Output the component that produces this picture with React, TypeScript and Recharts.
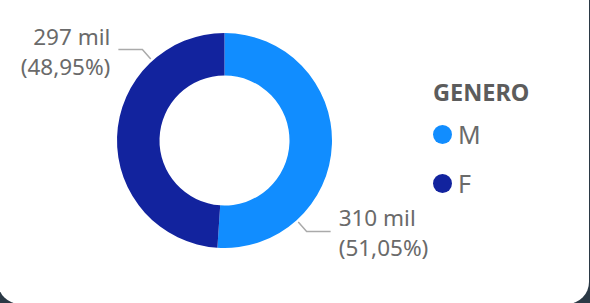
import React from "react";
import { PieChart, Pie, Cell, Legend } from "recharts";

const generos = ["M", "F"];
const totais = [310200, 297400];
const cores = ["#118DFF", "#12239E"];

const dados = generos.map((g, i) => ({ name: g, value: totais[i] }));

const FONTE = "'Segoe UI', 'Noto Sans', sans-serif";
const RAD = Math.PI / 180;

const ponto = (cx: number, cy: number, r: number, ang: number) => ({
  x: cx + r * Math.cos(-ang * RAD),
  y: cy + r * Math.sin(-ang * RAD),
});

const RotuloFatia = (props: any) => {
  const { cx, cy, midAngle, outerRadius, value, percent } = props;
  // Power BI coloca o rótulo ~45° antes do meio da fatia
  const ang = midAngle - 46;
  const p0 = ponto(cx, cy, outerRadius + 2.5, ang);
  const p1 = ponto(cx, cy, outerRadius + 15, ang);
  const lado = Math.cos(-ang * RAD) >= 0 ? 1 : -1;
  const p2x = p1.x + lado * 24;
  const tx = p2x + lado * 8;
  const pct = (percent * 100).toLocaleString("pt-BR", {
    minimumFractionDigits: 2,
    maximumFractionDigits: 2,
  });
  return (
    <g>
      <polyline
        points={`${p0.x},${p0.y} ${p1.x},${p1.y} ${p2x},${p1.y}`}
        fill="none"
        stroke="#aaaaaa"
        strokeWidth={1.5}
      />
      <text
        x={tx}
        y={p1.y - 5}
        textAnchor={lado > 0 ? "start" : "end"}
        fill="#6a6a6a"
        fontSize={22.5}
        fontFamily={FONTE}
      >
        <tspan x={tx}>{`${Math.round(value / 1000)} mil`}</tspan>
        <tspan x={tx} dy={30}>{`(${pct}%)`}</tspan>
      </text>
    </g>
  );
};

const LegendaGenero = () => (
  <div style={{ fontFamily: FONTE }}>
    <div
      style={{
        fontSize: 23.5,
        fontWeight: 700,
        color: "#5c5c5c",
        lineHeight: "24px",
        marginBottom: 17,
      }}
    >
      GENERO
    </div>
    {generos.map((g, i) => (
      <div
        key={g}
        style={{
          display: "flex",
          alignItems: "center",
          height: 26,
          marginBottom: 23,
        }}
      >
        <span
          style={{
            width: 19,
            height: 19,
            borderRadius: "50%",
            background: cores[i],
            display: "inline-block",
            marginRight: 6,
          }}
        />
        <span style={{ fontSize: 25, color: "#6a6a6a", lineHeight: "26px" }}>
          {g}
        </span>
      </div>
    ))}
  </div>
);

export default function App() {
  return (
    <div
      style={{
        position: "fixed",
        left: 0,
        top: 0,
        width: 590,
        height: 303,
        background: "#2b3945",
        overflow: "hidden",
      }}
    >
      <div
        style={{
          position: "absolute",
          left: -2,
          top: -30,
          width: 591,
          height: 334,
          background: "#ffffff",
          borderRadius: 22,
        }}
      />
      <div style={{ position: "absolute", left: 0, top: 0 }}>
        <PieChart
          width={590}
          height={303}
          margin={{ top: 0, right: 0, bottom: 0, left: 0 }}
        >
          <Pie
            data={dados}
            dataKey="value"
            nameKey="name"
            cx={224.5}
            cy={140.5}
            innerRadius={65}
            outerRadius={107.5}
            startAngle={90}
            endAngle={-270}
            stroke="none"
            label={RotuloFatia}
            labelLine={false}
            isAnimationActive={false}
          >
            {dados.map((d, i) => (
              <Cell key={d.name} fill={cores[i]} />
            ))}
          </Pie>
          <Legend
            content={<LegendaGenero />}
            layout="vertical"
            wrapperStyle={{ position: "absolute", left: 433, top: 80, width: 150 }}
          />
        </PieChart>
      </div>
    </div>
  );
}
